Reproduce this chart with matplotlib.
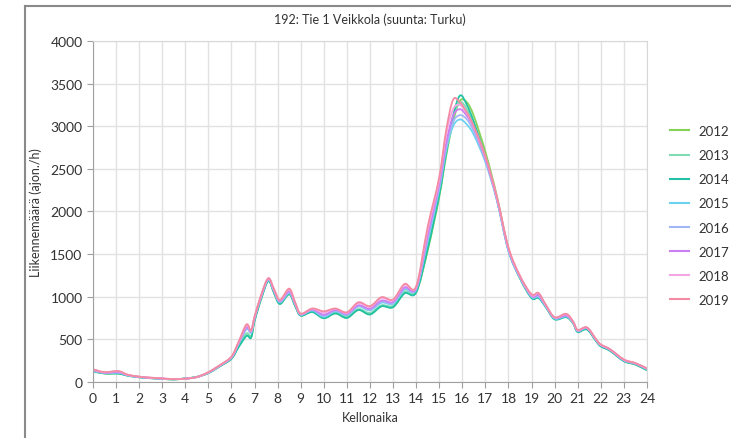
import matplotlib.pyplot as plt
import numpy as np
from matplotlib.path import Path
from matplotlib.patches import PathPatch
from matplotlib.lines import Line2D

plt.rcParams['font.family'] = ['Lato', 'DejaVu Sans']

hours = [0, 0.5, 1.1, 1.5, 2, 2.5, 3, 3.5, 4, 4.5, 5, 5.5, 6, 6.3, 6.65, 6.85, 7, 7.3, 7.6, 7.85,
         8.1, 8.5, 8.75, 9, 9.5, 10, 10.5, 11, 11.5, 12, 12.5, 13, 13.5, 14, 14.5, 15, 15.3, 15.6, 15.9, 16.2,
         16.5, 17, 17.5, 18, 18.5, 19, 19.3, 19.6, 20, 20.5, 20.8, 21, 21.4, 21.8, 22, 22.4, 23, 23.5, 24]

years = ["2012", "2013", "2014", "2015", "2016", "2017", "2018", "2019"]

v2012 = [125, 100, 100, 75, 55, 45, 37, 30, 42, 60, 105, 185, 275, 410, 545, 525, 720, 990, 1190, 1040,
         920, 1030, 900, 780, 825, 750, 805, 755, 845, 795, 890, 880, 1045, 1055, 1540, 2170, 2650, 3050, 3300, 3280,
         3120, 2700, 2180, 1560, 1220, 990, 990, 890, 740, 765, 690, 590, 620, 480, 420, 370, 245, 205, 140]
v2013 = [128, 102, 102, 76, 56, 46, 38, 31, 41, 59, 107, 188, 280, 425, 570, 540, 730, 1000, 1195, 1050,
         930, 1040, 910, 785, 830, 760, 815, 765, 855, 810, 900, 895, 1060, 1065, 1600, 2220, 2700, 3100, 3280, 3200,
         3000, 2640, 2150, 1550, 1225, 995, 995, 895, 745, 770, 695, 595, 625, 485, 425, 372, 250, 210, 145]
v2014 = [126, 100, 98, 75, 55, 44, 37, 30, 42, 60, 104, 185, 272, 405, 540, 520, 715, 985, 1185, 1040,
         915, 1030, 895, 778, 820, 748, 805, 752, 845, 792, 888, 878, 1040, 1050, 1560, 2190, 2680, 3120, 3360, 3250,
         3050, 2640, 2140, 1540, 1215, 985, 985, 885, 735, 760, 688, 585, 615, 478, 418, 365, 245, 205, 138]
v2015 = [132, 106, 108, 79, 57, 47, 39, 32, 40, 58, 110, 190, 285, 440, 620, 580, 745, 1010, 1200, 1060,
         935, 1045, 915, 790, 840, 765, 830, 785, 885, 840, 930, 920, 1085, 1085, 1660, 2260, 2720, 3000, 3080, 3020,
         2900, 2580, 2130, 1540, 1225, 1000, 1000, 895, 745, 770, 695, 595, 630, 490, 430, 378, 255, 215, 150]
v2016 = [134, 108, 110, 80, 58, 47, 39, 32, 40, 58, 110, 192, 288, 445, 625, 585, 750, 1015, 1205, 1065,
         940, 1050, 920, 792, 845, 775, 835, 790, 890, 848, 940, 925, 1095, 1090, 1680, 2280, 2750, 3050, 3130, 3080,
         2940, 2600, 2140, 1550, 1230, 1005, 1005, 900, 750, 775, 700, 600, 632, 492, 432, 378, 255, 215, 152]
v2017 = [138, 110, 115, 82, 60, 48, 40, 33, 39, 57, 112, 195, 292, 455, 640, 595, 755, 1020, 1210, 1070,
         950, 1065, 925, 795, 850, 790, 845, 800, 900, 860, 955, 940, 1110, 1100, 1720, 2320, 2800, 3120, 3200, 3120,
         2980, 2620, 2150, 1560, 1235, 1010, 1020, 905, 755, 780, 705, 605, 635, 495, 435, 380, 258, 218, 155]
v2018 = [145, 114, 124, 85, 62, 50, 42, 34, 38, 57, 114, 196, 295, 462, 665, 600, 760, 1028, 1215, 1080,
         958, 1085, 935, 800, 858, 815, 858, 812, 925, 880, 985, 960, 1140, 1115, 1780, 2370, 2900, 3200, 3250, 3150,
         2990, 2640, 2160, 1570, 1240, 1020, 1040, 910, 758, 795, 708, 608, 638, 498, 438, 382, 262, 220, 158]
v2019 = [150, 116, 128, 86, 63, 51, 42, 34, 38, 58, 116, 198, 298, 465, 675, 605, 765, 1032, 1218, 1085,
         962, 1095, 940, 802, 862, 830, 862, 818, 935, 890, 995, 968, 1150, 1120, 1820, 2400, 2950, 3310, 3280, 3160,
         3000, 2650, 2170, 1580, 1245, 1030, 1045, 915, 760, 800, 710, 610, 640, 500, 440, 385, 265, 222, 160]

series = [v2012, v2013, v2014, v2015, v2016, v2017, v2018, v2019]
colors = ["#86d256", "#7fdcb5", "#22c2a6", "#6cd2f0", "#a2b7f5", "#cc7ef2", "#f6a5e4", "#f38ca3"]


def spline_path(x, y):
    # smooth curve through the points (cubic bezier segments, like a spline chart)
    p = np.column_stack([x, y]).astype(float)
    n = len(p)
    verts = [p[0]]
    codes = [Path.MOVETO]
    for i in range(n - 1):
        p0 = p[max(i - 1, 0)]
        p3 = p[min(i + 2, n - 1)]
        c1 = p[i] + (p[i + 1] - p0) / 6
        c2 = p[i + 1] - (p3 - p[i]) / 6
        verts += [c1, c2, p[i + 1]]
        codes += [Path.CURVE4] * 3
    return Path(verts, codes)


fig = plt.figure(figsize=(7.31, 4.39), dpi=100)
ax = fig.add_axes([0.1272, 0.1276, 0.7578, 0.7767])

for vals, col in zip(series, colors):
    ax.add_patch(PathPatch(spline_path(hours, vals), fill=False, edgecolor=col, lw=1.3))

ax.set_xlim(0, 24)
ax.set_ylim(0, 4000)
ax.set_xticks(range(0, 25))
ax.set_yticks(range(0, 4001, 500))
ax.grid(True, color="#e2e2e2", lw=1)
ax.set_axisbelow(True)
for s in ["top", "right"]:
    ax.spines[s].set_color("#d8d8d8")
for s in ["left", "bottom"]:
    ax.spines[s].set_color("#a0a0a0")
ax.tick_params(colors="#a0a0a0", labelcolor="#333333", labelsize=10, length=4)

ax.set_title("192: Tie 1 Veikkola (suunta: Turku)", fontsize=9, color="#333333", pad=13)
ax.set_xlabel("Kellonaika", fontsize=9, color="#333333", labelpad=5)
ax.set_ylabel("Liikennemäärä (ajon./h)", fontsize=9, color="#333333", labelpad=6)

handles = [Line2D([], [], color=c, lw=1.5) for c in colors]
fig.legend(handles, years, loc="upper left", bbox_to_anchor=(0.9005, 0.74), frameon=False,
           fontsize=9.5, labelspacing=0.92, handlelength=1.4, handletextpad=0.75,
           labelcolor="#333333")

# outer frame of the chart card
fig.add_artist(Line2D([25 / 731, 25 / 731], [0, 1 - 7 / 439], color="#8a8a8a", lw=1.5))
fig.add_artist(Line2D([25 / 731, 1], [1 - 7 / 439, 1 - 7 / 439], color="#8a8a8a", lw=1.5))

fig.savefig("out.png", dpi=100)
